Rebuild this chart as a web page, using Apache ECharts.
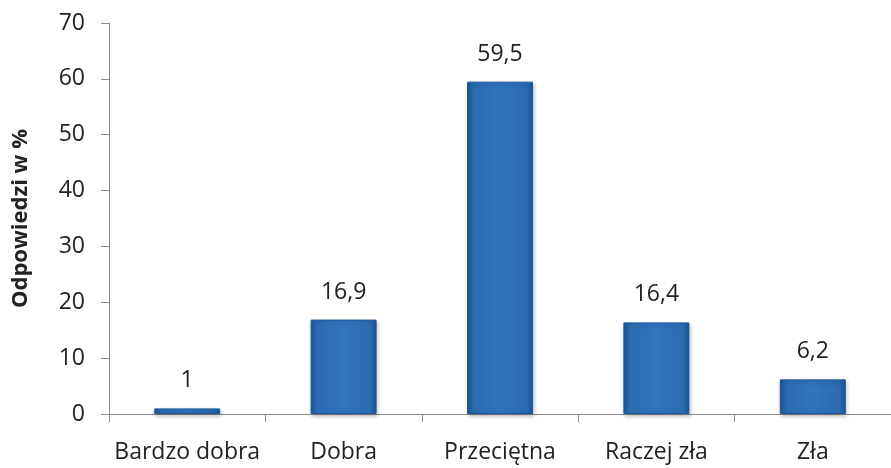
<!DOCTYPE html>
<html><head><meta charset="utf-8">
<script src="https://cdn.jsdelivr.net/npm/echarts@6/dist/echarts.min.js"></script>
<style>html,body{margin:0;padding:0;background:#fff}#c{width:891px;height:468px}</style>
</head><body><div id="c"></div>
<script>
const categories = ["Bardzo dobra", "Dobra", "Przeciętna", "Raczej zła", "Zła"];
const values = [1, 16.9, 59.5, 16.4, 6.2];
const yTicks = [0, 10, 20, 30, 40, 50, 60, 70];
const yTitle = "Odpowiedzi w %";

const chart = echarts.init(document.getElementById('c'), null, {renderer: 'canvas'});
const font = "Open Sans";
chart.setOption({
  animation: false,
  grid: {left: 109, right: -10, top: 23, bottom: 54},
  xAxis: {
    type: 'category', data: categories,
    axisLine: {lineStyle: {color: '#8c8c8c', width: 1}},
    axisTick: {show: true, length: 8, lineStyle: {color: '#8c8c8c'}},
    axisLabel: {color: '#222', fontSize: 23, fontFamily: font, margin: 27, interval: 0}
  },
  yAxis: {
    type: 'value', min: yTicks[0], max: yTicks[yTicks.length - 1], interval: 10,
    name: yTitle, nameLocation: 'middle', nameGap: 77,
    nameTextStyle: {color: '#222', fontSize: 22, fontWeight: 'bold', fontFamily: font},
    axisLine: {show: true, lineStyle: {color: '#8c8c8c', width: 1}},
    axisTick: {show: true, length: 8, lineStyle: {color: '#8c8c8c'}},
    axisLabel: {color: '#222', fontSize: 23, fontFamily: font, margin: 24},
    splitLine: {show: false}
  },
  series: [{
    type: 'bar', data: values, barWidth: 66,
    itemStyle: {
      color: new echarts.graphic.LinearGradient(0, 0, 1, 0, [
        {offset: 0, color: '#1d5797'},
        {offset: 0.1, color: '#2a6bb2'},
        {offset: 0.5, color: '#3074bf'},
        {offset: 0.9, color: '#2a6bb2'},
        {offset: 1, color: '#1c5494'}
      ]),
      borderColor: '#1f5899', borderWidth: 1,
      shadowColor: 'rgba(0,0,0,0.25)', shadowBlur: 4, shadowOffsetX: 1, shadowOffsetY: 2
    },
    label: {
      show: true, position: 'top', distance: 16, color: '#222', fontSize: 23, fontFamily: font,
      formatter: p => String(p.value).replace('.', ',')
    }
  }]
});
</script></body></html>
